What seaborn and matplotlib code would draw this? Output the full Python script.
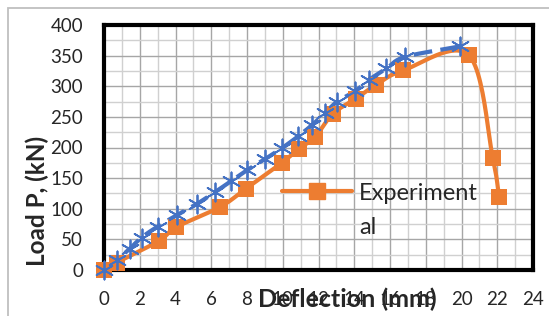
import numpy as np
import pandas as pd
import matplotlib
matplotlib.use("Agg")
import matplotlib.pyplot as plt
import seaborn as sns
from matplotlib.lines import Line2D
from matplotlib.patches import Rectangle

# ---- data ----
exp_x = [0, 0.7, 3.05, 4.05, 6.5, 7.95, 9.95, 10.9, 11.8, 12.8, 14.1, 15.2, 16.75, 20.4, 21.75, 22.1]
exp_y = [0, 12, 47, 70, 103, 133, 175, 198, 217, 255, 280, 302, 326, 351, 183, 120]
num_x = [0, 0.7, 1.45, 2.1, 3.0, 4.1, 5.2, 6.2, 7.1, 8.0, 9.0, 9.95, 10.85, 11.65, 12.35,
         13.05, 14.05, 14.8, 15.8, 16.85, 19.9]
num_y = [0, 16, 35, 53, 71, 90, 108, 127, 145, 163, 181, 199, 218, 237, 256,
         275, 292, 310, 329, 348, 365]
x_ticks = [0, 2, 4, 6, 8, 10, 12, 14, 16, 18, 20, 22, 24]
y_ticks = [0, 50, 100, 150, 200, 250, 300, 350, 400]
legend_label = "Experiment"
legend_label2 = "al"
xlabel = "Deflection (mm)"
ylabel = "Load P, (kN)"

ORANGE = "#ED7D31"
BLUE = "#4472C4"


def smooth(x, y, n=24):
    """Catmull-Rom curve through the points (line rendering only)."""
    p = np.column_stack([x, y]).astype(float)
    p = np.vstack([2 * p[0] - p[1], p, 2 * p[-1] - p[-2]])
    out = []
    t = np.linspace(0, 1, n, endpoint=False)[:, None]
    for i in range(1, len(p) - 2):
        p0, p1, p2, p3 = p[i - 1], p[i], p[i + 1], p[i + 2]
        seg = 0.5 * ((2 * p1) + (-p0 + p2) * t + (2 * p0 - 5 * p1 + 4 * p2 - p3) * t ** 2
                     + (-p0 + 3 * p1 - 3 * p2 + p3) * t ** 3)
        out.append(seg)
    out.append(p[-2][None, :])
    out = np.vstack(out)
    return out[:, 0], out[:, 1]


sns.set_style("white")
plt.rcParams["font.family"] = ["Lato", "DejaVu Sans"]

fig = plt.figure(figsize=(5.49, 3.16), dpi=100)
ax = fig.add_axes([104 / 549, 1 - 270 / 316, (533 - 104) / 549, (270 - 25) / 316])

# figure border
fig.patches.append(Rectangle((8 / 549, -0.1), 1.2, (316 - 8) / 316 + 0.1, transform=fig.transFigure,
                             fill=False, edgecolor="#BFBFBF", linewidth=1.3))

ax.set_xlim(0, 24)
ax.set_ylim(0, 400)
ax.set_xticks(np.arange(0, 25, 1), minor=True)
ax.set_yticks(np.arange(0, 401, 25), minor=True)
ax.set_xticks(x_ticks)
ax.set_yticks(y_ticks)
ax.set_xticklabels([str(v) for v in x_ticks])
ax.set_yticklabels([str(v) for v in y_ticks])
ax.grid(which="minor", color="#D0D0D0", linewidth=1.0)
ax.grid(which="major", color="#A6A6A6", linewidth=1.0)
ax.set_axisbelow(True)
ax.tick_params(which="both", length=0)
ax.tick_params(axis="x", pad=15, labelsize=13.5)
ax.tick_params(axis="y", pad=15, labelsize=13.5)
for s in ax.spines.values():
    s.set_visible(True)
    s.set_color("black")
    s.set_linewidth(3)

# orange smoothed line + squares
sx, sy = smooth(exp_x, exp_y)
sns.lineplot(x=sx, y=sy, sort=False, estimator=None, color=ORANGE, linewidth=3, ax=ax)
sns.scatterplot(x=exp_x, y=exp_y, marker="s", s=130, color=ORANGE, edgecolor=ORANGE,
                linewidth=0, ax=ax, zorder=3, clip_on=False)

# blue dashed smoothed line + asterisks
bx, by = smooth(num_x, num_y)
sns.lineplot(x=bx, y=by, sort=False, estimator=None, color=BLUE, linewidth=3, ax=ax)
ax.lines[-1].set_dashes([4.5, 2])
sns.scatterplot(x=num_x, y=num_y, marker=(6, 2, 0), s=170, color=BLUE, edgecolor=BLUE,
                linewidth=1.3, ax=ax, zorder=4, clip_on=False)

ax.set_xlabel("")
ax.set_ylabel("")

# legend
handle = Line2D([], [], color=ORANGE, linewidth=3, marker="s", markersize=12)
leg = ax.legend([handle], [legend_label], loc="center left",
                bbox_to_anchor=(282 / 549, 1 - 193 / 316), bbox_transform=fig.transFigure,
                frameon=False, fontsize=17, handlelength=2.95, handletextpad=0.3,
                borderpad=0, borderaxespad=0)
fig.text(359 / 549, 1 - 227 / 316, legend_label2, fontsize=17, ha="left", va="center")

fig.text(347 / 549, 1 - 299 / 316, xlabel, fontsize=18, fontweight="bold", ha="center", va="center")
fig.text(37 / 549, 1 - 201 / 316, ylabel, fontsize=17.5, fontweight="bold", rotation=90,
         ha="center", va="center")

fig.savefig("out.png", dpi=100)
